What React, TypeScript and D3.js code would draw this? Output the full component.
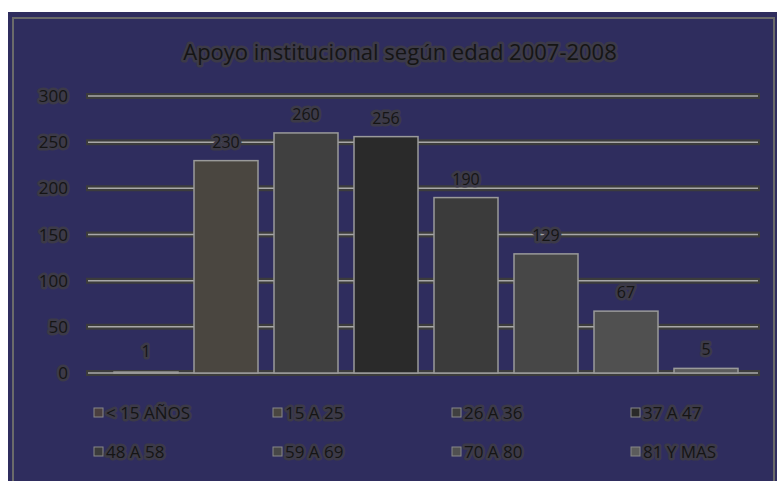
import React from "react";
import * as d3 from "d3";

const categories = ["< 15 AÑOS", "15 A 25", "26 A 36", "37 A 47", "48 A 58", "59 A 69", "70 A 80", "81 Y MAS"];
const values = [1, 230, 260, 256, 190, 129, 67, 5];
const yTicks = [0, 50, 100, 150, 200, 250, 300];
const title = "Apoyo institucional según edad 2007-2008";
const barColors = ["#4a3f3f", "#4a4640", "#404040", "#2a2a2a", "#3b3b3b", "#474747", "#505050", "#5c5c5c"];

export default function App() {
  const W = 777, H = 481;
  const x = d3.scaleBand<string>().domain(categories).range([106, 746]).paddingInner(0.2).paddingOuter(0.1);
  const y = d3.scaleLinear().domain([0, 300]).range([373, 96]);
  const font = "'Open Sans', 'Liberation Sans', sans-serif";
  const halo = { stroke: "#3c3a48", strokeWidth: 5, paintOrder: "stroke" as const, strokeLinejoin: "round" as const };
  return (
    <svg width={W} height={H} style={{ position: "absolute", left: 0, top: 0 }} fontFamily={font}>
      <rect x={0} y={0} width={W} height={H} fill="#ffffff" />
      <rect x={8} y={12} width={W - 8} height={H - 12} fill="#2f2d5e" />
      <rect x={13} y={18} width={W - 16} height={H - 14} fill="none" stroke="#6a6a6a" strokeWidth={2} />
      <text x={400} y={60} textAnchor="middle" fontSize={22} fill="#151515" {...halo}>{title}</text>
      {yTicks.map((t) => (
        <g key={t}>
          <line x1={86} x2={760} y1={y(t)} y2={y(t)} stroke="#3c3c3c" strokeWidth={6} />
          <line x1={88} x2={758} y1={y(t)} y2={y(t)} stroke="#a8a8a8" strokeWidth={1.5} />
          <text x={68} y={y(t) + 6} textAnchor="end" fontSize={17} fill="#151515" {...halo}>{t}</text>
        </g>
      ))}
      {categories.map((c, i) => (
        <g key={c}>
          <rect x={x(c)!} y={y(values[i])} width={x.bandwidth()} height={y(0) - y(values[i])}
            fill={barColors[i]} stroke="#9a9a9a" strokeWidth={1.5} />
          <text x={x(c)! + x.bandwidth() / 2} y={y(values[i]) - (i === 0 ? 15 : 13)} textAnchor="middle" fontSize={16} fill="#151515" {...halo}>{values[i]}</text>
        </g>
      ))}
      {categories.map((c, i) => {
        const col = i % 4, row = Math.floor(i / 4);
        const lx = 94 + col * 179, ly = 413 + row * 39;
        return (
          <g key={"l" + c}>
            <rect x={lx} y={ly - 5} width={9} height={9} fill={barColors[i]} stroke="#888" />
            <text x={lx + 12} y={ly + 6} fontSize={17} fill="#151515" {...halo}>{c}</text>
          </g>
        );
      })}
    </svg>
  );
}
